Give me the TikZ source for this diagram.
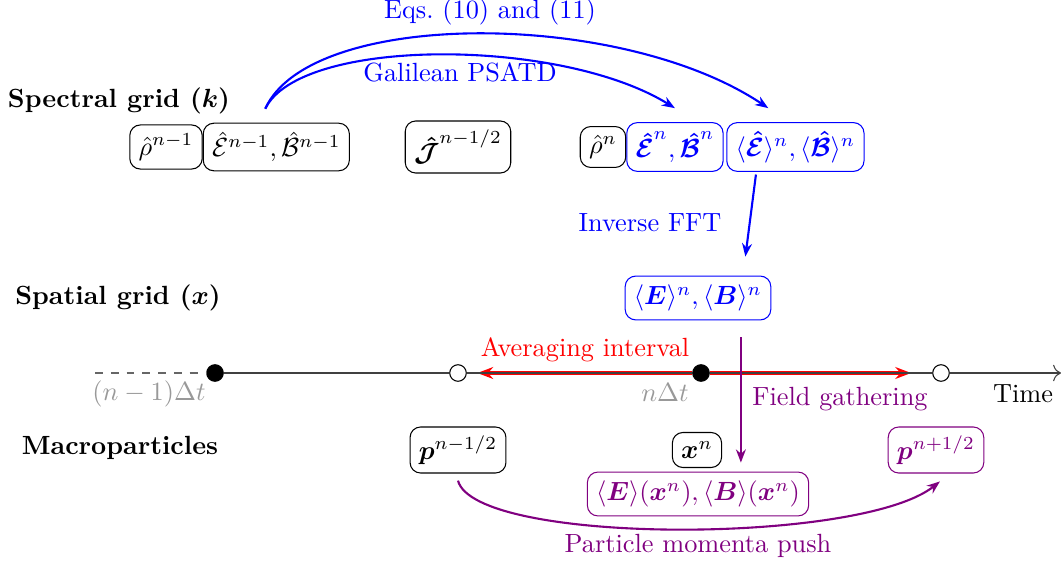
\documentclass[tikz,border=0pt]{standalone}
\usepackage{amsmath,amssymb}
\usetikzlibrary{arrows.meta,positioning}
\definecolor{fourier}{HTML}{0000FF}
\definecolor{avg}{HTML}{FF0000}
\definecolor{gather}{HTML}{800080}
\definecolor{tick}{HTML}{999999}

\begin{document}
\begin{tikzpicture}[x=0.38pt, y=-0.38pt,
    qty/.style={draw, rounded corners=4pt},
    rowlabel/.style={font=\bfseries},
    flow/.style={thick, -{Stealth[length=5pt]}},
    dot/.style={circle, draw, fill=black, inner sep=0pt, minimum size=6.3pt},
    hollow/.style={circle, draw, fill=white, inner sep=0pt, minimum size=6.3pt}]
  \useasboundingbox (0,0) rectangle (1061,565);

  % row labels
  \node[rowlabel] (spec) at (119,101) {Spectral grid ($\boldsymbol{k}$)};
  \node[rowlabel] (spat) at (118,298) {Spatial grid ($\boldsymbol{x}$)};
  \node[rowlabel] (macro) at (120,448) {Macroparticles};

  % spectral grid
  \node[qty] (rhoold) at (166,147) {$\hat{\rho}^{n-1}$};
  \node[qty, right=0pt of rhoold] (EBold) {$\hat{\mathcal{E}}^{n-1},\hat{\mathcal{B}}^{n-1}$};
  \node[qty] (Jhalf) at (458,147) {$\boldsymbol{\hat{\mathcal{J}}}^{n-1/2}$};
  \node[qty] (rhonew) at (603,147) {$\hat{\rho}^{n}$};
  \node[qty, fourier, right=0pt of rhonew] (EBnew) {$\boldsymbol{\hat{\mathcal{E}}}^{n},\boldsymbol{\hat{\mathcal{B}}}^{n}$};
  \node[qty, fourier, right=1pt of EBnew] (EBavg) {$\langle\boldsymbol{\hat{\mathcal{E}}}\rangle^{n},\langle\boldsymbol{\hat{\mathcal{B}}}\rangle^{n}$};

  % spatial grid
  \node[qty, fourier] (EBreal) at (698,298) {$\langle\boldsymbol{E}\rangle^{n},\langle\boldsymbol{B}\rangle^{n}$};

  % macroparticles
  \node[qty] (pold) at (458,450) {$\boldsymbol{p}^{n-1/2}$};
  \node[qty] (xn) at (697,450) {$\boldsymbol{x}^{n}$};
  \node[qty, gather] (pnew) at (936,450) {$\boldsymbol{p}^{n+1/2}$};
  \node[qty, gather] (EBpart) at (698,494) {$\langle\boldsymbol{E}\rangle(\boldsymbol{x}^{n}),\langle\boldsymbol{B}\rangle(\boldsymbol{x}^{n})$};

  % time axis
  \coordinate (tstart) at (95,373);
  \node[dot] (tprev) at (215,373) {};
  \node[hollow] (thalfprev) at (458,373) {};
  \node[dot] (tn) at (701,373) {};
  \node[hollow] (thalfnext) at (941,373) {};
  \coordinate (tend) at (1061,373);

  \draw[avg, very thick, -{Stealth[length=6pt]}, shorten >=4pt] (tn) -- (thalfprev);
  \draw[avg, very thick, -{Stealth[length=6pt]}, shorten >=8pt] (tn) -- (thalfnext);
  \draw[black!60, dashed] (tstart) -- (tprev);
  \draw[black!75] (tprev) -- (thalfprev);
  \draw[black!75] (thalfprev) -- (tn);
  \draw[black!75] (tn) -- (thalfnext);
  \draw[black!75, -{To[length=3pt]}] (thalfnext) -- (tend);

  \node[tick] (lblprev) at (149,394) {$(n-1)\Delta t$};
  \node[tick] (lbln) at (665,393) {$n\Delta t$};
  \node (lbltime) at (1023,394) {Time};
  \node[avg] (lblavg) at (585,350) {Averaging interval};

  % field solve
  \coordinate (solve) at ([xshift=-4.2pt,yshift=5.3pt]EBold.north);
  \draw[flow, fourier] (solve) .. controls (300,37) and (560,37) .. ([yshift=5.3pt]EBnew.north);
  \draw[flow, fourier] (solve) .. controls (310,9) and (620,9) .. ([xshift=-10.3pt,yshift=5.3pt]EBavg.north);
  \node[fourier] (lbleqs) at (490,12) {Eqs.\ (10) and (11)};
  \node[fourier] (lblpsatd) at (460,72) {Galilean PSATD};

  \draw[flow, fourier] ([xshift=-15pt,yshift=-1pt]EBavg.south) -- ([xshift=18pt,yshift=7.2pt]EBreal.north);
  \node[fourier] (lblfft) at (650,223) {Inverse FFT};

  % gather and push
  \draw[flow, gather] ([xshift=16.3pt,yshift=-6.4pt]EBreal.south) -- ([xshift=16.3pt,yshift=3.4pt]EBpart.north);
  \node[gather] (lblgather) at (840,399) {Field gathering};

  \draw[flow, gather] ([yshift=-2.7pt]pold.south) .. controls (475,545) and (860,545) .. ([xshift=1.5pt,yshift=-3pt]pnew.south);
  \node[gather] (lblpush) at (698,546) {Particle momenta push};
\end{tikzpicture}
\end{document}
